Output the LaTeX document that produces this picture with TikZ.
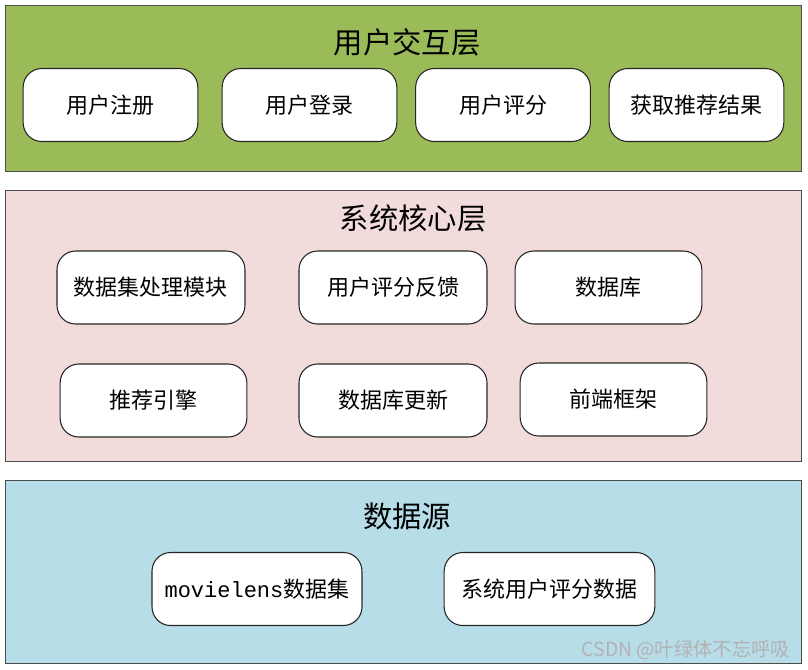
\documentclass[tikz,border=0pt]{standalone}
\usepackage{fontspec}
\setmainfont{Noto Sans CJK SC}
\newfontfamily\latinmono{Liberation Mono}
\definecolor{usergreen}{HTML}{9BBB59}
\definecolor{corepink}{HTML}{F2DCDB}
\definecolor{sourceblue}{HTML}{B7DDE8}
\begin{document}
\begin{tikzpicture}[x=0.75pt, y=-0.75pt,
            layer/.style={rectangle, draw=black!70, line width=0.9pt, anchor=north west, inner sep=0pt},
            layertitle/.style={font=\fontsize{22}{26}\selectfont},
            block/.style={rectangle, rounded corners=14pt, draw=black!85, fill=white, line width=0.8pt,
                          minimum height=54.75pt, inner sep=0pt, font=\fontsize{16.5}{20}\selectfont}]

        \useasboundingbox (0,0) rectangle (808,669);

        % layers
        \node[layer, fill=usergreen, minimum width=597pt, minimum height=124.5pt] (ui) at (5,5) {};
        \node[layer, fill=corepink, minimum width=597pt, minimum height=203.25pt] (core) at (5,190) {};
        \node[layer, fill=sourceblue, minimum width=597pt, minimum height=137.25pt] (source) at (5,480) {};

        \node[layertitle] (uititle) at (407,42) {用户交互层};
        \node[layertitle] (coretitle) at (413,218) {系统核心层};
        \node[layertitle] (sourcetitle) at (407,516) {数据源};

        % user interaction
        \node[block, minimum width=131pt] (register) at (110.5,105) {用户注册};
        \node[block, minimum width=131pt] (login) at (309.5,105) {用户登录};
        \node[block, minimum width=131pt] (rating) at (503,105) {用户评分};
        \node[block, minimum width=131pt] (result) at (696.5,105) {获取推荐结果};

        % system core
        \node[block, minimum width=141pt] (dataset) at (151,287.5) {数据集处理模块};
        \node[block, minimum width=141pt] (feedback) at (393,287.5) {用户评分反馈};
        \node[block, minimum width=140pt] (database) at (608.5,287.5) {数据库};
        \node[block, minimum width=140pt] (engine) at (153.5,400.5) {推荐引擎};
        \node[block, minimum width=141pt] (dbupdate) at (393,400.5) {数据库更新};
        \node[block, minimum width=140pt] (frontend) at (613.5,399.5) {前端框架};

        % data source
        \node[block, minimum width=157.5pt] (movielens) at (257,589) {{\latinmono movielens}数据集};
        \node[block, minimum width=158pt] (userdata) at (549.5,589) {系统用户评分数据};

        \node[text=black!30, font=\fontsize{14.5}{17}\selectfont] (mark) at (686,650) {CSDN @叶绿体不忘呼吸};
    \end{tikzpicture}
\end{document}
